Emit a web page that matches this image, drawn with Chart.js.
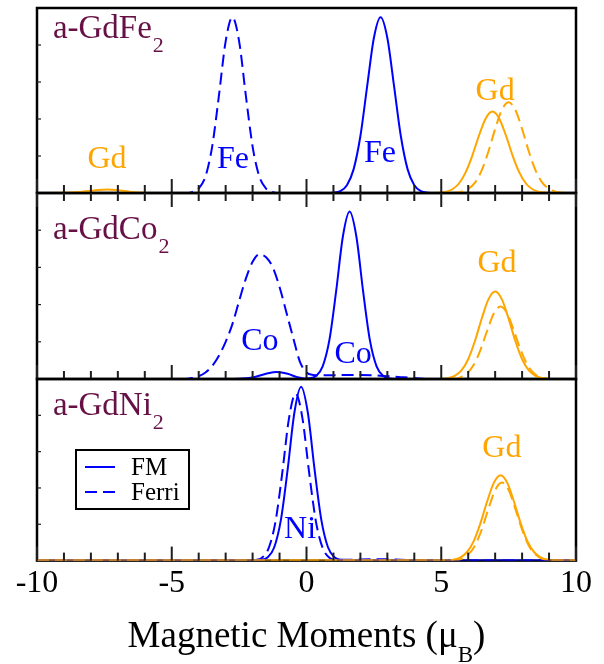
<!DOCTYPE html>
<html>
<head>
<meta charset="utf-8">
<script src="https://cdn.jsdelivr.net/npm/chart.js@4.4.1/dist/chart.umd.min.js"></script>
<style>
  html, body { margin: 0; padding: 0; background: #fff; }
  #wrap { position: relative; width: 604px; height: 664px; }
  #wrap canvas { position: absolute; left: 0; }
</style>
</head>
<body>
<div id="wrap">
  <canvas id="p1" width="604" height="197" style="top:0px"></canvas>
  <canvas id="p2" width="604" height="194" style="top:189px"></canvas>
  <canvas id="p3" width="604" height="289" style="top:375px"></canvas>
</div>
<script>
// axis
var xMin = -10, xMax = 10;
var xTickLabels = [-10, -5, 0, 5, 10];
var xMinorTicks = [-10, -9, -8, -7, -6, -5, -4, -3, -2, -1, 0, 1, 2, 3, 4, 5, 6, 7, 8, 9, 10];
var xTitle = 'Magnetic Moments (\u03bc';
var xTitleSub = 'B';
var legendLabels = ['FM', 'Ferri'];

// panel 1 : a-GdFe2   [moment, density]
var gdFe_FM = [[-10,0],[-9.0,0.01],[-8.5,0.05],[-8.0,0.12],[-7.75,0.16],[-7.4,0.19],[-7.0,0.15],[-6.5,0.06],[-6.0,0.01],[-5.5,0],
  [4.75,0],[4.9,0.02],[5.15,0.06],[5.4,0.19],[5.65,0.5],[5.9,1.1],[6.15,2.01],[6.4,3.11],[6.65,4.03],[6.9,4.4],[7.15,4.03],
  [7.4,3.11],[7.65,2.01],[7.9,1.1],[8.15,0.5],[8.4,0.19],[8.65,0.06],[8.9,0.02],[9.2,0],[10,0]];
var gdFe_Ferri = [[-10,0],[5.25,0],[5.5,0.02],[5.75,0.07],[6.0,0.22],[6.25,0.56],[6.5,1.22],[6.75,2.24],[7.0,3.46],[7.25,4.49],
  [7.5,4.9],[7.75,4.49],[8.0,3.46],[8.25,2.24],[8.5,1.22],[8.75,0.56],[9.0,0.22],[9.25,0.07],[9.5,0.02],[9.75,0],[10,0]];
var fe_FM = [[-10,0],[0.75,0],[1.0,0.02],[1.25,0.1],[1.5,0.42],[1.75,1.29],[2.0,3.08],[2.25,5.76],[2.5,8.38],[2.75,9.5],
  [3.0,8.38],[3.25,5.76],[3.5,3.08],[3.75,1.29],[4.0,0.42],[4.25,0.1],[4.5,0.02],[4.75,0],[10,0]];
var fe_Ferri = [[-10,0],[-4.5,0],[-4.25,0.05],[-4.0,0.24],[-3.75,0.89],[-3.5,2.51],[-3.25,5.26],[-3.0,8.2],[-2.75,9.5],
  [-2.5,8.2],[-2.25,5.26],[-2.0,2.51],[-1.75,0.89],[-1.5,0.24],[-1.25,0.05],[-1.0,0],[10,0]];
var fe_other = [[-4.1,0],[-3.1,0]];

// panel 2 : a-GdCo2
var gdCo_FM = [[-10,0],[5.0,0],[5.25,0.05],[5.5,0.17],[5.75,0.46],[6.0,1.06],[6.25,2.04],[6.5,3.24],[6.75,4.28],[7.0,4.7],
  [7.25,4.28],[7.5,3.24],[7.75,2.04],[8.0,1.06],[8.25,0.46],[8.5,0.17],[8.75,0.05],[9.0,0],[10,0]];
var gdCo_Ferri = [[-10,0],[5.45,0],[5.7,0.09],[5.95,0.29],[6.2,0.75],[6.45,1.54],[6.7,2.58],[6.95,3.52],[7.2,3.9],[7.45,3.52],
  [7.7,2.58],[7.95,1.54],[8.2,0.75],[8.45,0.29],[8.7,0.09],[8.95,0.02],[9.2,0],[10,0]];
var co_FM = [[-10,0],[-3.0,0],[-2.5,0.01],[-2.0,0.08],[-1.5,0.28],[-1.1,0.38],[-0.7,0.28],[-0.35,0.1],[-0.1,0.03],[0.1,0.04],
  [0.35,0.16],[0.6,0.68],[0.85,2.1],[1.1,4.72],[1.35,7.66],[1.6,9.0],[1.85,7.66],[2.1,4.72],[2.35,2.1],[2.6,0.68],[2.85,0.16],
  [3.1,0.03],[3.4,0],[10,0]];
var co_Ferri = [[-10,0],[-4.5,0],[-4.25,0.05],[-4.0,0.15],[-3.75,0.35],[-3.5,0.7],[-3.25,1.25],[-3.0,2.0],[-2.75,2.95],
  [-2.5,4.2],[-2.25,5.4],[-2.0,6.3],[-1.75,6.7],[-1.5,6.55],[-1.25,6.0],[-1.0,4.95],[-0.75,3.6],[-0.5,2.25],[-0.25,0.95],
  [0.0,0.35],[0.25,0.22],[0.5,0.2],[1.0,0.2],[1.5,0.22],[2.0,0.22],[2.5,0.2],[3.0,0.15],[3.5,0.1],[4.0,0.05],[4.5,0],[10,0]];

// panel 3 : a-GdNi2
var gdNi_FM = [[-10,0],[5.2,0],[5.45,0.05],[5.7,0.17],[5.95,0.46],[6.2,1.06],[6.45,2.04],[6.7,3.24],[6.95,4.28],[7.2,4.7],
  [7.45,4.28],[7.7,3.24],[7.95,2.04],[8.2,1.06],[8.45,0.46],[8.7,0.17],[8.95,0.05],[9.2,0],[10,0]];
var gdNi_Ferri = [[-10,0],[5.5,0],[5.75,0.1],[6.0,0.33],[6.25,0.82],[6.5,1.7],[6.75,2.85],[7.0,3.88],[7.25,4.3],[7.5,3.88],
  [7.75,2.85],[8.0,1.7],[8.25,0.82],[8.5,0.33],[8.75,0.1],[9.0,0.03],[9.25,0],[10,0]];
var ni_FM = [[-10,0],[-2.0,0],[-1.7,0.03],[-1.45,0.17],[-1.2,0.72],[-0.95,2.24],[-0.7,5.01],[-0.45,8.14],[-0.2,9.57],
  [0.05,8.14],[0.3,5.01],[0.55,2.24],[0.8,0.72],[1.05,0.17],[1.3,0.03],[1.6,0],[10,0]];
var ni_Ferri = [[-10,0],[-2.2,0],[-1.9,0.03],[-1.65,0.16],[-1.4,0.7],[-1.15,2.15],[-0.9,4.82],[-0.65,7.83],[-0.4,9.2],
  [-0.15,7.83],[0.1,4.82],[0.35,2.15],[0.6,0.7],[0.85,0.16],[1.1,0.05],[1.5,0.05],[2.5,0.08],[3.5,0.05],[4.2,0],[10,0]];

var BLUE = '#0000ff', ORANGE = '#ffa500', GREEN = '#00a000', LABEL = '#661046';
var SERIF = "'Liberation Serif', 'Times New Roman', serif";

function line(pts, color, dashed) {
  return {
    data: pts.map(function (p) { return { x: p[0], y: p[1] }; }),
    borderColor: color,
    borderWidth: 2,
    borderDash: dashed ? [12, 6] : [],
    pointRadius: 0,
    fill: false,
    cubicInterpolationMode: 'monotone'
  };
}

var panels = [
  {
    id: 'p1', name: 'a-GdFe', nameY: 8.38, padding: { top: 8, left: 37, right: 28, bottom: 4 },
    topTicks: false, axis: false, legend: false,
    datasets: [line(gdFe_FM, ORANGE, false), line(gdFe_Ferri, ORANGE, true), line(fe_other, GREEN, false),
               line(fe_FM, BLUE, false), line(fe_Ferri, BLUE, true)],
    notes: [
      { text: 'Gd', color: ORANGE, x: -7.4, y: 1.35 },
      { text: 'Fe', color: BLUE, x: -2.73, y: 1.35 },
      { text: 'Fe', color: BLUE, x: 2.73, y: 1.68 },
      { text: 'Gd', color: ORANGE, x: 7.0, y: 5.03 }
    ]
  },
  {
    id: 'p2', name: 'a-GdCo', nameY: 7.51, padding: { top: 4, left: 37, right: 28, bottom: 4 },
    topTicks: true, axis: false, legend: false,
    datasets: [line(gdCo_FM, ORANGE, false), line(gdCo_Ferri, ORANGE, true),
               line(co_FM, BLUE, false), line(co_Ferri, BLUE, true)],
    notes: [
      { text: 'Co', color: BLUE, x: -1.73, y: 1.57 },
      { text: 'Co', color: BLUE, x: 1.73, y: 0.86 },
      { text: 'Gd', color: ORANGE, x: 7.07, y: 5.73 }
    ]
  },
  {
    id: 'p3', name: 'a-GdNi', nameY: 8.0, padding: { top: 4, left: 37, right: 28, bottom: 57 },
    topTicks: false, axis: true, legend: true,
    datasets: [line(gdNi_FM, ORANGE, false), line(gdNi_Ferri, ORANGE, true),
               line(ni_FM, BLUE, false), line(ni_Ferri, BLUE, true)],
    notes: [
      { text: 'Ni', color: BLUE, x: -0.24, y: 1.24 },
      { text: 'Gd', color: ORANGE, x: 7.25, y: 5.68 }
    ]
  }
];

function panelPlugin(panel) {
  return {
    id: 'panelDeco',
    beforeDatasetsDraw: function (chart) {
      var ctx = chart.ctx, a = chart.chartArea;
      ctx.save();
      ctx.strokeStyle = '#000';
      ctx.lineWidth = 2.5;
      ctx.strokeRect(a.left, a.top, a.right - a.left, a.bottom - a.top);
      ctx.restore();
    },
    afterDraw: function (chart) {
      var ctx = chart.ctx, a = chart.chartArea, sx = chart.scales.x, sy = chart.scales.y;
      ctx.save();
      // inward tick marks
      ctx.fillStyle = '#1e1e1e';
      for (var i = 0; i < xMinorTicks.length; i++) {
        var v = xMinorTicks[i];
        var px = sx.getPixelForValue(v);
        var len = (v % 5 === 0) ? 14 : 8;
        ctx.fillRect(px - 1, a.bottom - len, 2, len);
        if (panel.topTicks) { ctx.fillRect(px - 1, a.top, 2, len); }
      }
      [2, 4, 6, 8].forEach(function (t) {
        var py = sy.getPixelForValue(t);
        ctx.fillRect(a.left, py - 0.6, 4, 1.2);
      });
      ctx.textBaseline = 'alphabetic';
      // panel name with subscript 2
      ctx.fillStyle = LABEL;
      ctx.font = '33px ' + SERIF;
      ctx.textAlign = 'left';
      var nx = sx.getPixelForValue(-9.41), ny = sy.getPixelForValue(panel.nameY);
      ctx.fillText(panel.name, nx, ny);
      var w = ctx.measureText(panel.name).width;
      ctx.font = '22px ' + SERIF;
      ctx.fillText('2', nx + w + 1, ny + 14);
      // peak labels
      ctx.font = '32px ' + SERIF;
      ctx.textAlign = 'center';
      panel.notes.forEach(function (n) {
        ctx.fillStyle = n.color;
        ctx.fillText(n.text, sx.getPixelForValue(n.x), sy.getPixelForValue(n.y));
      });
      if (panel.legend) {
        var bx = a.left + 39, by = a.top + 71;
        ctx.strokeStyle = '#000';
        ctx.lineWidth = 2;
        ctx.strokeRect(bx, by, 113, 59);
        ctx.strokeStyle = BLUE;
        ctx.lineWidth = 2;
        ctx.beginPath(); ctx.moveTo(bx + 9, by + 17); ctx.lineTo(bx + 39, by + 17); ctx.stroke();
        ctx.setLineDash([12, 6]);
        ctx.beginPath(); ctx.moveTo(bx + 9, by + 42); ctx.lineTo(bx + 40, by + 42); ctx.stroke();
        ctx.setLineDash([]);
        ctx.fillStyle = '#000';
        ctx.font = '25px ' + SERIF;
        ctx.textAlign = 'left';
        ctx.fillText(legendLabels[0], bx + 55, by + 25);
        ctx.fillText(legendLabels[1], bx + 55, by + 50);
      }
      if (panel.axis) {
        ctx.fillStyle = '#000';
        ctx.font = '37px ' + SERIF;
        var w1 = ctx.measureText(xTitle).width;
        ctx.font = '23px ' + SERIF;
        var w2 = ctx.measureText(xTitleSub).width;
        ctx.font = '37px ' + SERIF;
        var w3 = ctx.measureText(')').width;
        var x0 = (a.left + a.right) / 2 - (w1 + w2 + w3) / 2;
        var yb = 272;
        ctx.textAlign = 'left';
        ctx.fillText(xTitle, x0, yb);
        ctx.font = '23px ' + SERIF;
        ctx.fillText(xTitleSub, x0 + w1, yb + 15);
        ctx.font = '37px ' + SERIF;
        ctx.fillText(')', x0 + w1 + w2, yb);
      }
      ctx.restore();
    }
  };
}

panels.forEach(function (panel) {
  var ctx = document.getElementById(panel.id).getContext('2d');
  new Chart(ctx, {
    type: 'line',
    data: { datasets: panel.datasets },
    options: {
      responsive: false,
      animation: false,
      events: [],
      layout: { padding: panel.padding },
      plugins: { legend: { display: false }, tooltip: { enabled: false } },
      scales: {
        x: {
          type: 'linear', min: xMin, max: xMax, display: panel.axis,
          afterBuildTicks: function (scale) {
            scale.ticks = xTickLabels.map(function (v) { return { value: v }; });
          },
          ticks: { font: { size: 32, family: SERIF }, color: '#000', padding: 4, maxRotation: 0, autoSkip: false },
          grid: { display: false, drawTicks: false },
          border: { display: false }
        },
        y: { min: 0, max: 10, display: false }
      }
    },
    plugins: [panelPlugin(panel)]
  });
});
</script>
</body>
</html>
